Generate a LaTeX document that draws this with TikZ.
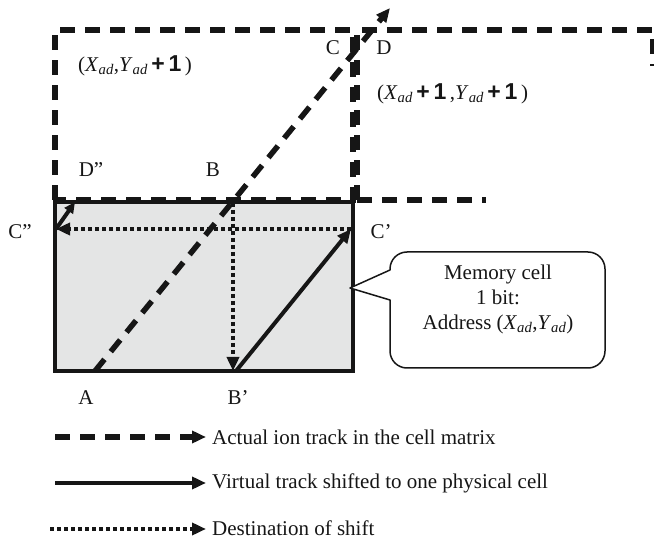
\documentclass[tikz,border=0pt]{standalone}
\usepackage{fontspec}
\setmainfont{Liberation Serif}
\newfontfamily\sansbold{Liberation Sans}
\usetikzlibrary{arrows.meta}
\newcommand\adsub{\textsubscript{\itshape ad}}
\newcommand\plusone{\,{\sansbold\bfseries\fontsize{23}{24}\selectfont+\,1}\,}
\definecolor{ink}{HTML}{161616}
\definecolor{cellgray}{HTML}{E4E5E5}
\begin{document}
\begin{tikzpicture}[x=1pt,y=-1pt,
  tipmark/.style={-{Triangle[length=14pt,width=12pt]}},
  iontrack/.style={draw=ink,line width=5.5pt,dash pattern=on 15pt off 10pt},
  virtual/.style={draw=ink,line width=4pt},
  shiftdest/.style={draw=ink,line width=4.5pt,dash pattern=on 4pt off 3pt},
  lbl/.style={font=\fontsize{21}{25}\selectfont,inner sep=0pt,text=ink},
  legtxt/.style={font=\fontsize{21}{25}\selectfont,inner sep=0pt,anchor=west,text=ink},
  cellbox/.style={draw=ink,fill=cellgray,line width=4.5pt,inner sep=0pt}]
\useasboundingbox (0,0) rectangle (654,540);
% memory cell
\node[cellbox,minimum width=298pt,minimum height=169pt] (mem) at (204,286.5) {};
% neighbouring cells (dashed)
\draw[iontrack] (55,200) -- (55,30) -- (353,30) -- (353,200) -- cycle;
\draw[iontrack] (357,200) -- (357,30) -- (653,30) -- (653,66);
\draw[iontrack] (357,200) -- (486,200);
% points
\coordinate (A) at (95,371);
\coordinate (T) at (390,8);
\coordinate (Bt) at (233,203);
\coordinate (Bp) at (233,371);
\coordinate (Bs) at (236,371);
\coordinate (Cp) at (351,229);
\coordinate (Cpp) at (56,229);
\coordinate (Dpp) at (75,202);
% tracks
\draw[shiftdest,tipmark] (Bt) -- (Bp);
\draw[shiftdest,tipmark] (Cp) -- (Cpp);
\draw[virtual,tipmark] (Bs) -- (Cp);
\draw[virtual,-{Triangle[length=11pt,width=10pt]}] (Cpp) -- (Dpp);
\draw[iontrack,tipmark] (A) -- (T);
% labels
\node[lbl] (lC) at (333,48) {C};
\node[lbl] (lD) at (384,48) {D};
\node[lbl,anchor=west] (lul) at (78,66) {(\textit{X}\adsub,\textit{Y}\adsub\plusone)};
\node[lbl,anchor=west] (lur) at (377,94) {(\textit{X}\adsub\plusone,\textit{Y}\adsub\plusone)};
\node[lbl] (lDpp) at (91,170) {D”};
\node[lbl] (lB) at (213,170) {B};
\node[lbl] (lCpp) at (20,232) {C”};
\node[lbl] (lCp) at (381,232) {C’};
\node[lbl] (lA) at (86,398) {A};
\node[lbl] (lBp) at (238,398) {B’};
% callout
\coordinate (ptr) at (350,288);
\draw[draw=ink,line width=1.5pt,fill=white,line join=round]
  (390,300) -- (ptr) -- (390,270) [rounded corners=17pt] -- (390,252) -- (605,252) -- (605,368) -- (390,368) [sharp corners] -- (390,300) -- cycle;
\node[lbl,align=center] (callout) at (498,299) {Memory cell\\[0pt]1 bit:\\[0pt]Address (\textit{X}\adsub,\textit{Y}\adsub)};
% legend
\coordinate (l1a) at (55,437); \coordinate (l1b) at (206,437);
\coordinate (l2a) at (55,483); \coordinate (l2b) at (206,483);
\coordinate (l3a) at (50,529); \coordinate (l3b) at (206,529);
\draw[iontrack,tipmark] (l1a) -- (l1b);
\draw[virtual,tipmark] (l2a) -- (l2b);
\draw[shiftdest,tipmark] (l3a) -- (l3b);
\node[legtxt] (t1) at (212,437) {Actual ion track in the cell matrix};
\node[legtxt] (t2) at (212,483) {Virtual track shifted to one physical cell};
\node[legtxt] (t3) at (212,528) {Destination of shift};
\end{tikzpicture}
\end{document}
